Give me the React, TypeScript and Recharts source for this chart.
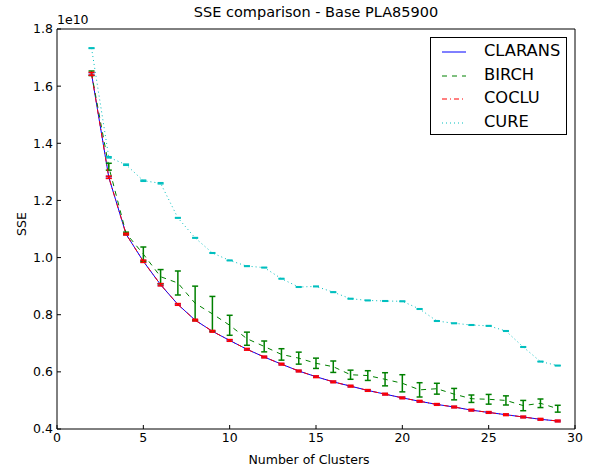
import React from 'react';
import {
  LineChart,
  Line,
  XAxis,
  YAxis,
  ErrorBar,
  Label
} from 'recharts';

// number of clusters
const clusters = [2, 3, 4, 5, 6, 7, 8, 9, 10, 11, 12, 13, 14, 15, 16, 17, 18, 19, 20, 21, 22, 23, 24, 25, 26, 27, 28, 29];

// SSE values in units of 1e10
const claransSse = [1.643, 1.281, 1.082, 0.987, 0.905, 0.836, 0.781, 0.742, 0.71, 0.679, 0.652, 0.627, 0.603, 0.583, 0.565, 0.55, 0.535, 0.522, 0.509, 0.497, 0.486, 0.477, 0.466, 0.458, 0.45, 0.442, 0.434, 0.428];
const claransErr = [0.004, 0.003, 0.002, 0.003, 0.003, 0.002, 0.002, 0.002, 0.002, 0.002, 0.002, 0.002, 0.002, 0.002, 0.002, 0.002, 0.002, 0.002, 0.002, 0.002, 0.002, 0.002, 0.002, 0.002, 0.002, 0.002, 0.002, 0.002];

const birchSse = [1.645, 1.318, 1.085, 1.012, 0.933, 0.911, 0.84, 0.803, 0.763, 0.716, 0.689, 0.661, 0.648, 0.63, 0.618, 0.59, 0.587, 0.574, 0.56, 0.537, 0.541, 0.522, 0.506, 0.504, 0.5, 0.482, 0.49, 0.471];
const birchErr = [0.008, 0.012, 0.004, 0.025, 0.025, 0.042, 0.06, 0.061, 0.035, 0.023, 0.019, 0.02, 0.021, 0.018, 0.02, 0.016, 0.017, 0.023, 0.03, 0.025, 0.019, 0.02, 0.013, 0.017, 0.016, 0.018, 0.015, 0.012];

const cocluSse = [1.643, 1.281, 1.082, 0.987, 0.905, 0.836, 0.781, 0.742, 0.71, 0.679, 0.652, 0.627, 0.603, 0.583, 0.565, 0.55, 0.535, 0.522, 0.509, 0.497, 0.486, 0.477, 0.466, 0.458, 0.45, 0.442, 0.434, 0.428];
const cocluErr = [0.005, 0.004, 0.003, 0.004, 0.004, 0.003, 0.003, 0.003, 0.003, 0.003, 0.003, 0.003, 0.003, 0.003, 0.003, 0.003, 0.003, 0.003, 0.003, 0.003, 0.003, 0.003, 0.003, 0.003, 0.003, 0.003, 0.003, 0.003];

const cureSse = [1.733, 1.351, 1.325, 1.269, 1.26, 1.139, 1.069, 1.016, 0.99, 0.97, 0.965, 0.926, 0.897, 0.899, 0.879, 0.856, 0.85, 0.848, 0.847, 0.82, 0.778, 0.77, 0.764, 0.761, 0.743, 0.687, 0.636, 0.622];
const cureErr = [0.001, 0.002, 0.002, 0.002, 0.002, 0.001, 0.001, 0.001, 0.001, 0.001, 0.001, 0.001, 0.001, 0.001, 0.001, 0.001, 0.001, 0.001, 0.001, 0.001, 0.001, 0.001, 0.001, 0.001, 0.001, 0.001, 0.001, 0.001];

const xTicks = [0, 5, 10, 15, 20, 25, 30];
const yTicks = [0.4, 0.6, 0.8, 1.0, 1.2, 1.4, 1.6, 1.8];

const data = clusters.map((k, i) => ({
  k,
  clarans: claransSse[i],
  claransErr: claransErr[i],
  birch: birchSse[i],
  birchErr: birchErr[i],
  coclu: cocluSse[i],
  cocluErr: cocluErr[i],
  cure: cureSse[i],
  cureErr: cureErr[i]
}));

const FONT = 'DejaVu Sans, sans-serif';

const legendItems = [
  { name: 'CLARANS', color: '#0000ff', dash: undefined },
  { name: 'BIRCH', color: '#008000', dash: '5 5' },
  { name: 'COCLU', color: '#ff0000', dash: '5 3 1 3' },
  { name: 'CURE', color: '#00bfbf', dash: '1 3' }
];

// legend drawn as an overlay so it doesn't push the plot area around
const ChartLegend = () => (
  <div
    style={{
      position: 'absolute',
      left: 430,
      top: 37,
      width: 137,
      height: 98,
      border: '1px solid #000',
      background: '#fff',
      fontFamily: FONT,
      fontSize: 16.3,
      boxSizing: 'border-box',
      paddingTop: 2
    }}
  >
    {legendItems.map((item) => (
      <div key={item.name} style={{ position: 'relative', height: 23.5 }}>
        <svg width={30} height={10} style={{ position: 'absolute', left: 10, top: 7 }}>
          <line x1={1} y1={5} x2={25} y2={5} stroke={item.color} strokeWidth={1} strokeDasharray={item.dash} />
        </svg>
        <span style={{ position: 'absolute', left: 53, top: 1, color: '#000', lineHeight: '20px' }}>{item.name}</span>
      </div>
    ))}
  </div>
);

const SseLabel = () => (
  <text
    x={21}
    y={224}
    transform="rotate(-90, 21, 224)"
    textAnchor="middle"
    dominantBaseline="central"
    fill="#000"
    fontSize={12.5}
    fontFamily={FONT}
  >
    SSE
  </text>
);

const App: React.FC = () => {
  return (
    <div style={{ position: 'absolute', left: 0, top: 0, width: 597, height: 466, background: '#fff' }}>
      <div
        style={{
          position: 'absolute',
          left: 57,
          width: 518,
          top: 4,
          textAlign: 'center',
          fontFamily: FONT,
          fontSize: 14.5
        }}
      >
        SSE comparison - Base PLA85900
      </div>
      <div style={{ position: 'absolute', left: 57, top: 12, fontFamily: FONT, fontSize: 12.5 }}>1e10</div>
      <LineChart width={597} height={466} data={data} margin={{ top: 28, right: 21, bottom: 0, left: 0 }}>
        <XAxis
          dataKey="k"
          type="number"
          domain={[0, 30]}
          ticks={xTicks}
          height={37}
          tickSize={-4}
          tickMargin={8}
          stroke="#000"
          tick={{ fill: '#000', fontSize: 12.5, fontFamily: FONT }}
          allowDataOverflow
        >
          <Label value="Number of Clusters" position="insideBottom" offset={2} dx={-7} style={{ fill: '#000', fontSize: 12.5, fontFamily: FONT }} />
        </XAxis>
        <XAxis
          xAxisId="top"
          orientation="top"
          dataKey="k"
          type="number"
          domain={[0, 30]}
          ticks={xTicks}
          height={1}
          tickSize={-4}
          tick={false}
          stroke="#000"
        />
        <YAxis
          yAxisId="left"
          type="number"
          domain={[0.4, 1.8]}
          ticks={yTicks}
          width={57}
          tickSize={-4}
          tickMargin={8}
          stroke="#000"
          tickFormatter={(v: number) => v.toFixed(1)}
          tick={{ fill: '#000', fontSize: 12.5, fontFamily: FONT }}
          allowDataOverflow
        >
          <Label content={<SseLabel />} />
        </YAxis>
        <YAxis
          yAxisId="right"
          orientation="right"
          type="number"
          domain={[0.4, 1.8]}
          ticks={yTicks}
          width={1}
          tickSize={-4}
          tick={false}
          stroke="#000"
        />
        <Line yAxisId="left" type="linear" dataKey="clarans" name="CLARANS" stroke="#0000ff" strokeWidth={1} dot={false} isAnimationActive={false}>
          <ErrorBar dataKey="claransErr" width={3} stroke="#5050ff" direction="y" isAnimationActive={false} />
        </Line>
        <Line yAxisId="left" type="linear" dataKey="birch" name="BIRCH" stroke="#008000" strokeWidth={1} strokeDasharray="5 5" dot={false} isAnimationActive={false}>
          <ErrorBar dataKey="birchErr" width={3} stroke="#008000" direction="y" isAnimationActive={false} />
        </Line>
        <Line yAxisId="left" type="linear" dataKey="coclu" name="COCLU" stroke="#ff0000" strokeWidth={1} strokeDasharray="5 3 1 3" dot={false} isAnimationActive={false}>
          <ErrorBar dataKey="cocluErr" width={3} stroke="#ff0000" direction="y" isAnimationActive={false} />
        </Line>
        <Line yAxisId="left" type="linear" dataKey="cure" name="CURE" stroke="#00bfbf" strokeWidth={1} strokeDasharray="1 3" dot={false} isAnimationActive={false}>
          <ErrorBar dataKey="cureErr" width={3} stroke="#00bfbf" direction="y" isAnimationActive={false} />
        </Line>
      </LineChart>
      <ChartLegend />
    </div>
  );
};

export default App;
